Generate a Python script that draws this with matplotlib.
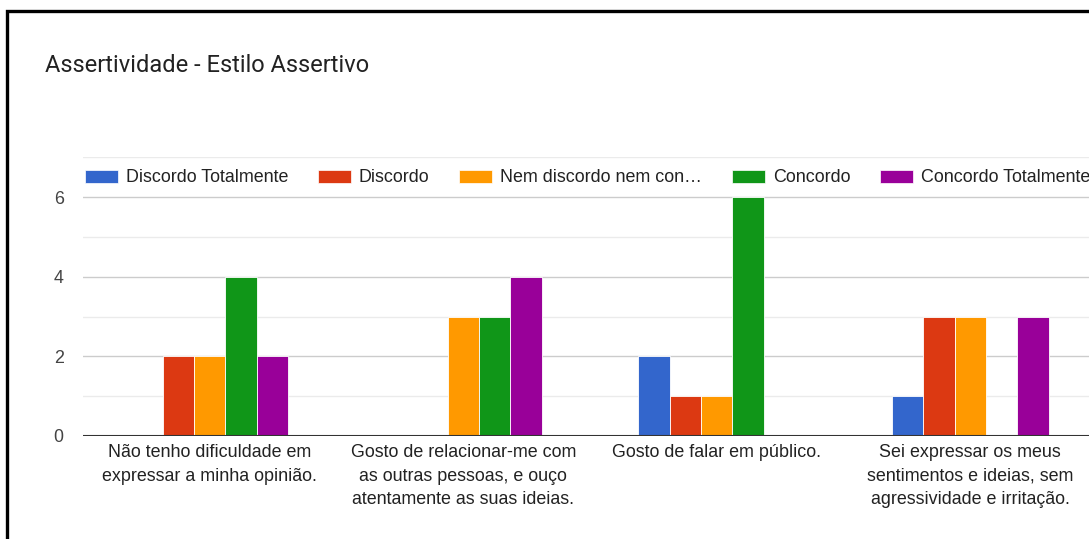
import matplotlib.pyplot as plt
from matplotlib.patches import Rectangle, Patch

# Dados
questions = [
    "Não tenho dificuldade em\nexpressar a minha opinião.",
    "Gosto de relacionar-me com\nas outras pessoas, e ouço\natentamente as suas ideias.",
    "Gosto de falar em público.",
    "Sei expressar os meus\nsentimentos e ideias, sem\nagressividade e irritação.",
]
answers = ["Discordo Totalmente", "Discordo", "Nem discordo nem con…",
           "Concordo", "Concordo Totalmente"]
discordo_totalmente = [0, 0, 2, 1]
discordo = [2, 0, 1, 3]
nem_nem = [2, 3, 1, 3]
concordo = [4, 3, 6, 0]
concordo_totalmente = [2, 4, 0, 3]
colors = ["#3366CC", "#DC3912", "#FF9900", "#109618", "#990099"]

plt.rcParams['font.family'] = ['Liberation Sans', 'DejaVu Sans']

W, H = 1089, 539
fig = plt.figure(figsize=(W / 100, H / 100), dpi=100)

# Moldura preta (cortada à direita e em baixo)
fig.patches.append(Rectangle((7 / W, -0.2), 2, (H - 11) / H + 0.2, transform=fig.transFigure,
                             fill=False, ec="black", lw=2.4, zorder=0))

# Título
fig.text(45 / W, 1 - 65 / H, "Assertividade - Estilo Assertivo", ha="left", va="center",
         fontsize=17, color="#222222", family=["Roboto", "DejaVu Sans"])

# Eixo (estende-se além da margem direita, como no original)
left, bottom = 83 / W, (H - 436) / H
ax = fig.add_axes([left, bottom, 1014 / W, 278.6 / H])
ax.set_xlim(0, 4)
ax.set_ylim(0, 7)

series = [discordo_totalmente, discordo, nem_nem, concordo, concordo_totalmente]
bw = 0.124
for j, vals in enumerate(series):
    xs = [i + 0.5 + (j - 2) * bw for i in range(len(questions))]
    ax.bar(xs, vals, width=bw, color=colors[j], edgecolor="white", linewidth=0.6, zorder=3)

# Grelha
for v in range(1, 8):
    ax.axhline(v, color="#cccccc" if v % 2 == 0 else "#ebebeb", lw=1, zorder=1)
ax.axhline(0, color="#333333", lw=1.5, zorder=4)

for s in ax.spines.values():
    s.set_visible(False)
ax.set_yticks([0, 2, 4, 6])
ax.tick_params(axis="y", length=0, pad=14, labelsize=12.9, labelcolor="#444444")
ax.set_xticks([i + 0.5 for i in range(len(questions))])
ax.set_xticklabels(questions, fontsize=12.9, color="#222222", linespacing=1.5, va="top")
ax.tick_params(axis="x", length=0, pad=6)

# Legenda
handles = [Patch(facecolor=c, edgecolor="white", lw=0.5) for c in colors]
fig.legend(handles, answers, loc="center left", bbox_to_anchor=(85 / W, 1 - 178 / H),
           ncol=5, frameon=False, fontsize=12.9, labelcolor="#222222",
           handlelength=1.84, handleheight=0.78, handletextpad=0.45, columnspacing=1.65,
           borderpad=0, borderaxespad=0)

fig.savefig("out.png", dpi=100)
